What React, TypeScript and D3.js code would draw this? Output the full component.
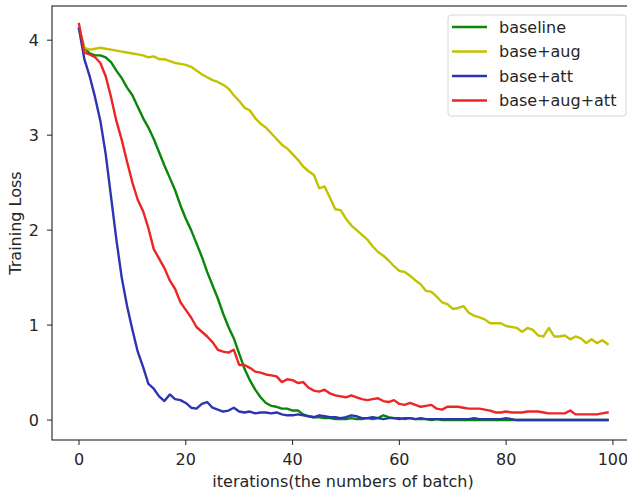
import React from 'react';
import * as d3 from 'd3';

// loss per batch for each run
const baseline = [
  4.12, 3.92, 3.86, 3.84, 3.84, 3.82, 3.77, 3.68, 3.6, 3.5,
  3.42, 3.3, 3.18, 3.08, 2.96, 2.82, 2.68, 2.55, 2.42, 2.26,
  2.12, 2.0, 1.86, 1.72, 1.56, 1.42, 1.28, 1.12, 0.98, 0.86,
  0.7, 0.54, 0.42, 0.32, 0.24, 0.18, 0.15, 0.14, 0.12, 0.12,
  0.1, 0.1, 0.06, 0.04, 0.03, 0.03, 0.02, 0.02, 0.01, 0.01,
  0.01, 0.02, 0.01, 0.01, 0.02, 0.01, 0.02, 0.05, 0.03, 0.02,
  0.02, 0.01, 0.02, 0.01, 0.01, 0.01, 0.0, 0.01, 0.0, 0.0,
  0.0, 0.0, 0.0, 0.0, 0.0, 0.0, 0.0, 0.0, 0.0, 0.0,
  0.0, 0.0, 0.0, 0.0, 0.0, 0.0, 0.0, 0.0, 0.0, 0.0,
  0.0, 0.0, 0.0, 0.0, 0.0, 0.0, 0.0, 0.0, 0.0, 0.0,
];
const baseAug = [
  4.12, 3.92, 3.9, 3.91, 3.92, 3.91, 3.9, 3.89, 3.88, 3.87,
  3.86, 3.85, 3.84, 3.82, 3.83, 3.8, 3.8, 3.78, 3.76, 3.75,
  3.74, 3.72, 3.68, 3.64, 3.61, 3.58, 3.56, 3.53, 3.49, 3.42,
  3.36, 3.29, 3.26, 3.18, 3.12, 3.08, 3.02, 2.96, 2.9, 2.86,
  2.8, 2.74, 2.67, 2.62, 2.58, 2.44, 2.46, 2.34, 2.22, 2.21,
  2.12, 2.05, 2.0, 1.95, 1.9, 1.83, 1.77, 1.73, 1.68, 1.62,
  1.57, 1.56, 1.52, 1.47, 1.43, 1.36, 1.35, 1.3, 1.24, 1.22,
  1.17, 1.18, 1.2, 1.13, 1.1, 1.08, 1.06, 1.02, 1.02, 1.02,
  0.99, 0.98, 0.97, 0.93, 0.97, 0.95, 0.89, 0.88, 0.97, 0.88,
  0.88, 0.89, 0.85, 0.88, 0.86, 0.81, 0.85, 0.81, 0.84, 0.8,
];
const baseAtt = [
  4.12, 3.8, 3.62, 3.4, 3.15, 2.8, 2.35, 1.9, 1.5, 1.2,
  0.95, 0.72, 0.56, 0.38, 0.33, 0.25, 0.2, 0.27, 0.22, 0.21,
  0.18, 0.13, 0.12, 0.17, 0.19, 0.13, 0.11, 0.09, 0.1, 0.13,
  0.09, 0.08, 0.09, 0.07, 0.08, 0.08, 0.07, 0.08, 0.06, 0.05,
  0.05, 0.06, 0.05, 0.04, 0.03, 0.05, 0.04, 0.03, 0.03, 0.02,
  0.03, 0.05, 0.04, 0.02, 0.02, 0.03, 0.02, 0.01, 0.02, 0.02,
  0.01, 0.02, 0.02, 0.01, 0.02, 0.01, 0.01, 0.01, 0.01, 0.01,
  0.01, 0.01, 0.01, 0.01, 0.02, 0.01, 0.01, 0.01, 0.01, 0.01,
  0.02, 0.01, 0.0, 0.0, 0.0, 0.0, 0.0, 0.0, 0.0, 0.0,
  0.0, 0.0, 0.0, 0.0, 0.0, 0.0, 0.0, 0.0, 0.0, 0.0,
];
const baseAugAtt = [
  4.17, 3.87, 3.85, 3.82, 3.76, 3.62, 3.4, 3.15, 2.95, 2.72,
  2.5, 2.32, 2.2, 2.02, 1.8, 1.7, 1.6, 1.47, 1.38, 1.24,
  1.16, 1.08, 0.98, 0.93, 0.88, 0.82, 0.74, 0.72, 0.71, 0.74,
  0.58, 0.58, 0.55, 0.51, 0.5, 0.48, 0.47, 0.46, 0.4, 0.43,
  0.42, 0.39, 0.4, 0.34, 0.31, 0.3, 0.32, 0.28, 0.26, 0.25,
  0.24, 0.26, 0.24, 0.22, 0.21, 0.22, 0.23, 0.2, 0.19, 0.21,
  0.17, 0.16, 0.18, 0.16, 0.14, 0.15, 0.16, 0.12, 0.11, 0.14,
  0.14, 0.14, 0.13, 0.12, 0.12, 0.12, 0.11, 0.1, 0.08, 0.08,
  0.09, 0.08, 0.08, 0.08, 0.09, 0.09, 0.09, 0.08, 0.07, 0.07,
  0.07, 0.07, 0.1, 0.06, 0.06, 0.06, 0.06, 0.06, 0.07, 0.08,
];

const seriesNames = ['baseline', 'base+aug', 'base+att', 'base+aug+att'];
const seriesColors = ['#0a870a', '#c2c200', '#2c35b0', '#ec2525'];
const seriesData = [baseline, baseAug, baseAtt, baseAugAtt];

const xTicks = [0, 20, 40, 60, 80, 100];
const yTicks = [0, 1, 2, 3, 4];

const App = () => {
  const width = 627;
  const height = 493;
  // axes box (right spine falls just outside the picture)
  const left = 52;
  const right = 634;
  const top = 6;
  const bottom = 440;

  const x = d3.scaleLinear().domain([-5.06, 103.95]).range([left, right]);
  const y = d3.scaleLinear().domain([-0.21, 4.36]).range([bottom, top]);

  const line = d3.line<number>()
    .x((_, i) => x(i))
    .y(d => y(d));

  const font = 'DejaVu Sans, sans-serif';
  const textColor = '#262626';
  const fs = 16;

  return (
    <svg width={width} height={height} style={{ position: 'absolute', left: 0, top: 0, background: '#fff' }}
      fontFamily={font}>
      <rect x={0} y={0} width={width} height={height} fill="#fff" />
      <defs>
        <clipPath id="plot">
          <rect x={left} y={top} width={right - left} height={bottom - top} />
        </clipPath>
      </defs>

      <g clipPath="url(#plot)">
        {seriesData.map((d, k) => (
          <path key={seriesNames[k]} d={line(d) ?? ''} fill="none" stroke={seriesColors[k]}
            strokeWidth={2.4} strokeLinejoin="round" strokeLinecap="square" />
        ))}
      </g>

      {/* spines */}
      <rect x={left} y={top} width={right - left} height={bottom - top} fill="none" stroke="#222" strokeWidth={1.1} />

      {/* x axis */}
      {xTicks.map(t => (
        <g key={t} transform={`translate(${x(t)},${bottom})`}>
          <line y1={0} y2={5} stroke="#222" strokeWidth={1} />
          <text y={25} textAnchor="middle" fontSize={fs} fill={textColor}>{t}</text>
        </g>
      ))}
      <text x={(left + right) / 2} y={487} textAnchor="middle" fontSize={fs} fill={textColor}>
        iterations(the numbers of batch)
      </text>

      {/* y axis */}
      {yTicks.map(t => (
        <g key={t} transform={`translate(${left},${y(t)})`}>
          <line x1={-5} x2={0} stroke="#222" strokeWidth={1} />
          <text x={-13} dy="0.36em" textAnchor="end" fontSize={fs} fill={textColor}>{t}</text>
        </g>
      ))}
      <text transform={`translate(21,${(top + bottom) / 2}) rotate(-90)`} textAnchor="middle"
        fontSize={fs} fill={textColor}>Training Loss</text>

      {/* legend */}
      <rect x={448} y={15} width={178} height={101} rx={3} fill="#fff" fillOpacity={0.8}
        stroke="#d6d6d6" strokeWidth={1} />
      {seriesNames.map((name, k) => {
        const ly = 27 + k * 24.5;
        return (
          <g key={name}>
            <line x1={452} x2={487} y1={ly} y2={ly} stroke={seriesColors[k]} strokeWidth={2.4} />
            <text x={499} y={ly} dy="0.35em" fontSize={fs} fill={textColor}>{name}</text>
          </g>
        );
      })}
    </svg>
  );
};

export default App;
